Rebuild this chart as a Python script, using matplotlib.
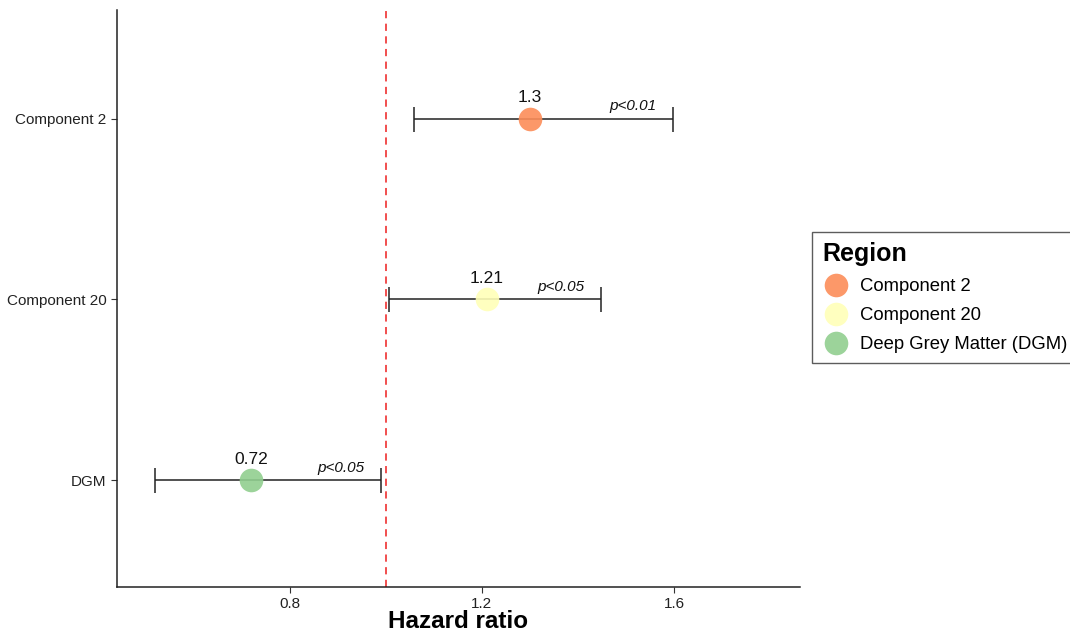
import matplotlib
matplotlib.use("Agg")
import matplotlib.pyplot as plt
from matplotlib.lines import Line2D

plt.rcParams['font.family'] = ['Liberation Sans', 'DejaVu Sans']

# data
regions = ["DGM", "Component 20", "Component 2"]
legend_names = ["Component 2", "Component 20", "Deep Grey Matter (DGM)"]
hr = [0.72, 1.21, 1.30]
ci_low = [0.52, 1.006, 1.058]
ci_high = [0.99, 1.448, 1.598]
p_text = ["p<0.05", "p<0.05", "p<0.01"]
colors = ["#91cf8f", "#ffffb8", "#fc8d59"]

fig = plt.figure(figsize=(10.7, 6.34), dpi=100)
ax = fig.add_axes([117/1070, 47/634, 683/1070, 577/634])

ypos = list(range(1, len(regions) + 1))

ax.axvline(1.0, color="#f04040", linestyle=(0, (4, 3)), linewidth=1.3, zorder=1)

for y, h, lo, hi, c, p in zip(ypos, hr, ci_low, ci_high, colors, p_text):
    ax.errorbar([h], [y], xerr=[[h - lo], [hi - h]], fmt="none",
                ecolor="#222222", elinewidth=1.1, capsize=9, capthick=1.1, zorder=2)
    ax.plot([h], [y], "o", color=c, markersize=17, alpha=0.9,
            markeredgewidth=0, zorder=3)
    ax.text(h, y + 0.115, f"{h:g}", ha="center", va="center", fontsize=12.5,
            color="#111111")
    ax.text(hi - 0.083, y + 0.068, p, ha="center", va="center", fontsize=11,
            style="italic", color="#111111")

ax.set_xlim(0.44, 1.8625)
ax.set_ylim(0.41, 3.6)
ax.set_xticks([0.8, 1.2, 1.6])
ax.set_xticklabels(["0.8", "1.2", "1.6"])
ax.set_yticks(ypos)
ax.set_yticklabels(regions)
ax.tick_params(labelsize=11, colors="#333333", length=4, width=0.8)
ax.tick_params(labelcolor="#222222")

for s in ["top", "right"]:
    ax.spines[s].set_visible(False)
for s in ["left", "bottom"]:
    ax.spines[s].set_linewidth(1.1)
    ax.spines[s].set_color("#222222")

ax.set_xlabel("Hazard ratio", fontsize=17.5, fontweight="bold")
ax.xaxis.set_label_coords(0.5, -0.04)

handles = [Line2D([], [], marker="o", linestyle="none", markersize=17,
                  markerfacecolor=c, markeredgewidth=0, alpha=0.9)
           for c in reversed(colors)]
leg = fig.legend(handles, legend_names, title="Region", loc="upper left",
                 bbox_to_anchor=(812/1070, 1 - 232/634), fontsize=13.3,
                 title_fontproperties={"weight": "bold", "size": 18},
                 frameon=True, fancybox=False, edgecolor="#333333",
                 borderaxespad=0, handlelength=1.5, handletextpad=0.55,
                 labelspacing=0.65, borderpad=0.55)
leg._legend_box.align = "left"
leg.get_frame().set_linewidth(1.0)

fig.savefig("out.png", dpi=100)
